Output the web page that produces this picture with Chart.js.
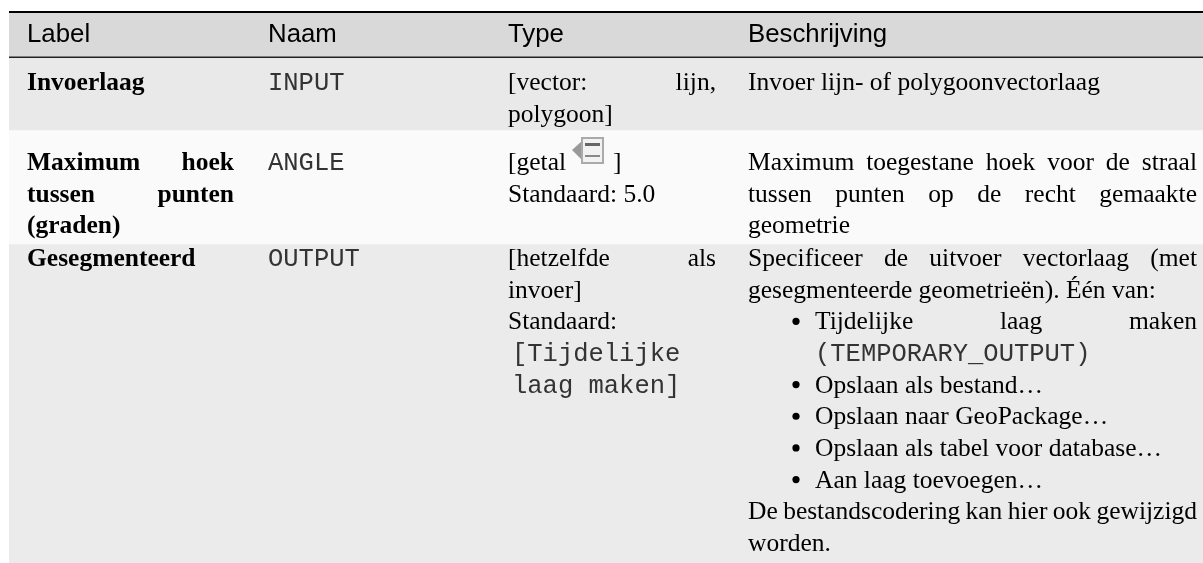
<!DOCTYPE html>
<html>
<head>
<meta charset="utf-8">
<title>Parameters</title>
<style>
  html, body { margin: 0; padding: 0; background: #fff; }
  canvas { display: block; }
</style>
<script src="https://cdn.jsdelivr.net/npm/chart.js@4/dist/chart.umd.min.js"></script>
</head>
<body>
<canvas id="myChart" width="1203" height="563"></canvas>
<script>
// table content
const headers = ['Label', 'Naam', 'Type', 'Beschrijving'];
const rowNames = ['header', 'invoerlaag', 'hoek', 'gesegmenteerd'];
const rowHeights = [46, 72, 114, 319];
const labelCells = [
  ['Invoerlaag'],
  ['Maximum hoek', 'tussen punten', '(graden)'],
  ['Gesegmenteerd']
];
const nameCells = [['INPUT'], ['ANGLE'], ['OUTPUT']];
const typeCells = [
  ['[vector: lijn,', 'polygoon]'],
  ['[getal', 'Standaard: 5.0'],
  ['[hetzelfde als', 'invoer]', 'Standaard:', '[Tijdelijke', 'laag maken]']
];
const descCells = [
  ['Invoer lijn- of polygoonvectorlaag'],
  ['Maximum toegestane hoek voor de straal', 'tussen punten op de recht gemaakte', 'geometrie'],
  ['Specificeer de uitvoer vectorlaag (met', 'gesegmenteerde geometrieën). Één van:',
   'Tijdelijke laag maken', '(TEMPORARY_OUTPUT)', 'Opslaan als bestand…', 'Opslaan naar GeoPackage…',
   'Opslaan als tabel voor database…', 'Aan laag toevoegen…',
   'De bestandscodering kan hier ook gewijzigd', 'worden.']
];
const monoLines = ['INPUT', 'ANGLE', 'OUTPUT', '[Tijdelijke', 'laag maken]', '(TEMPORARY_OUTPUT)'];
const justifiedLines = ['Maximum hoek', 'tussen punten', '[vector: lijn,', '[hetzelfde als',
  'Maximum toegestane hoek voor de straal', 'tussen punten op de recht gemaakte',
  'Specificeer de uitvoer vectorlaag (met', 'Tijdelijke laag maken',
  'De bestandscodering kan hier ook gewijzigd'];
const bulletLines = ['Tijdelijke laag maken', 'Opslaan als bestand…', 'Opslaan naar GeoPackage…',
  'Opslaan als tabel voor database…', 'Aan laag toevoegen…'];
const indentedLines = bulletLines.concat(['(TEMPORARY_OUTPUT)']);

// layout, in px of the hidden scales (canvas minus the padding)
const colLeft = [18, 259, 499, 739];
const colRight = [225, 465, 707, 1188];
const firstBaseline = [30, 32, 40, 22];
const lineHeight = 31.65;
const bulletX = 787;
const indentX = 806;
const serif = '"Liberation Serif"';
const sans = '"Liberation Sans"';
const mono = '"Liberation Mono"';

function drawLine(ctx, chart, line, col, top, font) {
  const xs = chart.scales.cols, ys = chart.scales.y;
  const y = ys.getPixelForValue(top);
  let left = col === 3 && indentedLines.includes(line) ? indentX : colLeft[col];
  ctx.font = font;
  if (monoLines.includes(line)) {
    ctx.font = '25.5px ' + mono;
    ctx.fillStyle = '#333';
    const offset = line === '[Tijdelijke' || line === 'laag maken]' ? 4 : 0;
    ctx.fillText(line, xs.getPixelForValue(left + offset), y);
    ctx.fillStyle = '#000';
    return;
  }
  if (col === 3 && bulletLines.includes(line)) {
    ctx.beginPath();
    ctx.arc(xs.getPixelForValue(bulletX), y - 8, 3.6, 0, Math.PI * 2);
    ctx.fill();
  }
  if (justifiedLines.includes(line)) {
    const words = line.split(' ');
    const total = words.reduce((s, w) => s + ctx.measureText(w).width, 0);
    const gap = (colRight[col] - left - total) / (words.length - 1);
    let x = left;
    words.forEach(w => {
      ctx.fillText(w, xs.getPixelForValue(x), y);
      x += ctx.measureText(w).width + gap;
    });
  } else {
    ctx.fillText(line, xs.getPixelForValue(left), y);
  }
}

function drawIcon(ctx, chart) {
  const xs = chart.scales.cols, ys = chart.scales.y;
  const x = xs.getPixelForValue(563), y = ys.getPixelForValue(125);
  ctx.save();
  ctx.fillStyle = '#999';
  ctx.beginPath();
  ctx.moveTo(x, y + 13);
  ctx.lineTo(x + 10, y + 4);
  ctx.lineTo(x + 10, y + 23);
  ctx.closePath();
  ctx.fill();
  ctx.fillStyle = '#f2f2f2';
  ctx.strokeStyle = '#aaa';
  ctx.lineWidth = 2;
  ctx.fillRect(x + 10, y + 1, 21, 25);
  ctx.strokeRect(x + 10, y + 1, 21, 25);
  ctx.fillStyle = '#666';
  ctx.fillRect(x + 13, y + 6, 15, 3);
  ctx.fillStyle = '#888';
  ctx.fillRect(x + 13, y + 18, 15, 2);
  ctx.restore();
  ctx.fillText(']', xs.getPixelForValue(604), ys.getPixelForValue(158));
}

const tablePlugin = {
  id: 'tablePlugin',
  afterDatasetsDraw(chart) {
    const ctx = chart.ctx, xs = chart.scales.cols, ys = chart.scales.y;
    ctx.save();
    ctx.textBaseline = 'alphabetic';
    ctx.fillStyle = '#000';

    // rules above and below the header
    ctx.fillRect(xs.getPixelForValue(0), 11, chart.chartArea.width, 2);
    ctx.fillStyle = '#222';
    ctx.fillRect(xs.getPixelForValue(0), ys.getPixelForValue(rowHeights[0]) - 1.5, chart.chartArea.width, 1.5);
    ctx.fillStyle = '#000';

    headers.forEach((h, c) => drawLine(ctx, chart, h, c, firstBaseline[0], '25.8px ' + sans));

    let top = rowHeights[0];
    labelCells.forEach((_, r) => {
      const base = top + firstBaseline[r + 1];
      [labelCells, nameCells, typeCells, descCells].forEach((cells, c) => {
        const font = (c === 0 ? 'bold ' : '') + '25.5px ' + serif;
        cells[r].forEach((line, i) => drawLine(ctx, chart, line, c, base + i * lineHeight, font));
      });
      top += rowHeights[r + 1];
    });

    ctx.font = '25.5px ' + serif;
    drawIcon(ctx, chart);
    ctx.restore();
  }
};

const rowColors = ['#d9d9d9', '#e9e9e9', '#fafafa', '#ebebeb'];

let ctx = document.getElementById('myChart').getContext('2d');
let myChart = new Chart(ctx, {
  type: 'bar',
  data: {
    labels: ['tabel'],
    datasets: rowNames.map((name, i) => ({
      label: name,
      data: [rowHeights[i]],
      backgroundColor: rowColors[i],
      borderWidth: 0,
      barPercentage: 1,
      categoryPercentage: 1
    }))
  },
  options: {
    responsive: false,
    animation: false,
    layout: { padding: { left: 9, top: 12 } },
    plugins: { legend: { display: false }, tooltip: { enabled: false }, title: { display: false } },
    scales: {
      x: { stacked: true, display: false },
      cols: { type: 'linear', axis: 'x', display: false, offset: false, min: 0, max: 1194 },
      y: { stacked: true, reverse: true, display: false, min: 0, max: 551 }
    }
  },
  plugins: [tablePlugin]
});
</script>
</body>
</html>
